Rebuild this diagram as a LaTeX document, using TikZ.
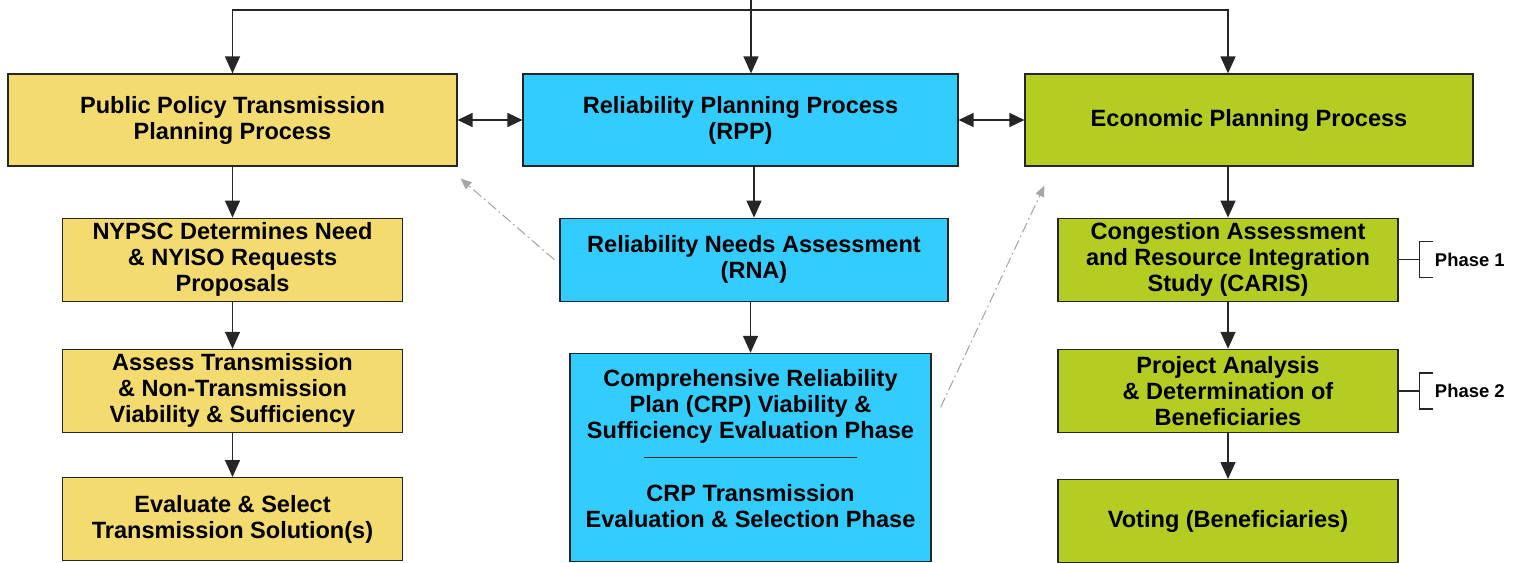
\documentclass[tikz,border=0pt]{standalone}
\usepackage{fontspec}
\setmainfont{Liberation Sans}
\usepackage{tikz}
\usetikzlibrary{arrows.meta, positioning, calc}
\definecolor{ppyellow}{RGB}{244,219,112}
\definecolor{rppblue}{RGB}{51,204,255}
\definecolor{eppgreen}{RGB}{181,204,34}

\begin{document}
\begin{tikzpicture}[
    x=0.02cm, y=-0.02cm,
    boxfont/.style={font=\bfseries\fontsize{13.4}{14.8}\selectfont, align=center},
    box/.style={boxfont, draw=black!85, line width=0.7pt, inner sep=2pt},
    topbox/.style={box, minimum height=1.84cm},
    stepbox/.style={box, minimum width=6.8cm, minimum height=1.66cm},
    ppbox/.style={box, fill=ppyellow},
    rppbox/.style={box, fill=rppblue},
    eppbox/.style={box, fill=eppgreen},
    line/.style={line width=0.8pt, black!85},
    arrow/.style={line, -{Triangle[length=0.34cm, width=0.3cm]}},
    dblarrow/.style={line, {Triangle[length=0.3cm, width=0.28cm]}-{Triangle[length=0.3cm, width=0.28cm]}},
    hint/.style={line width=0.6pt, gray!70, dash pattern=on 6pt off 2pt on 1pt off 2pt,
        -{Triangle[length=0.22cm, width=0.18cm]}},
    phaselbl/.style={font=\bfseries\fontsize{10.5}{12}\selectfont, inner sep=0pt, anchor=west},
  ]
    \useasboundingbox (0,0) rectangle (1517,563);

    % Planning processes
    \node[topbox, ppbox, minimum width=8.98cm] (pp) at (232.5,120) {Public Policy Transmission\\Planning Process};
    \node[topbox, rppbox, minimum width=8.7cm] (rpp) at (740.5,120) {Reliability Planning Process\\(RPP)};
    \node[topbox, eppbox, minimum width=8.96cm] (epp) at (1249,120) {Economic Planning Process};

    % Public policy column
    \node[ppbox, stepbox, below=1.02cm of pp] (nypsc) {NYPSC Determines Need\\\& NYISO Requests\\Proposals};
    \node[ppbox, stepbox, below=0.94cm of nypsc] (assess) {Assess Transmission\\\& Non-Transmission\\Viability \& Sufficiency};
    \node[ppbox, stepbox, below=0.88cm of assess] (select) {Evaluate \& Select\\Transmission Solution(s)};

    % Reliability column
    \node[rppbox, stepbox, minimum width=7.76cm, below=1.02cm of rpp, xshift=0.27cm] (rna) {Reliability Needs Assessment\\(RNA)};
    \node[rppbox, minimum width=7.22cm, minimum height=4.16cm, below=1.02cm of rna, xshift=-0.07cm] (crp) {};
    \node[boxfont] (crpa) at ([yshift=1.02cm]crp.center) {Comprehensive Reliability\\Plan (CRP) Viability \&\\Sufficiency Evaluation Phase};
    \node[boxfont] (crpb) at ([yshift=-0.98cm]crp.center) {CRP Transmission\\Evaluation \& Selection Phase};
    \draw[line] ([xshift=-2.14cm]crp.center) -- ([xshift=2.14cm]crp.center);

    % Economic column
    \node[eppbox, stepbox, below=1.02cm of epp, xshift=-0.42cm] (caris) {Congestion Assessment\\and Resource Integration\\Study (CARIS)};
    \node[eppbox, stepbox, below=0.94cm of caris] (proj) {Project Analysis\\\& Determination of\\Beneficiaries};
    \node[eppbox, stepbox, below=0.92cm of proj] (vote) {Voting (Beneficiaries)};

    % Feed from above
    \coordinate (src) at (751,0);
    \coordinate (bus) at (751,10);
    \draw[arrow] (src) -- (rpp.north -| src);
    \draw[arrow] (bus) -| (pp.north);
    \draw[arrow] (bus) -| (epp.north -| caris);

    % Arrows
    \draw[dblarrow] (pp) -- (rpp);
    \draw[dblarrow] (rpp) -- (epp);
    \draw[arrow] (pp.south -| nypsc) -- (nypsc.north);
    \draw[arrow] (nypsc) -- (assess);
    \draw[arrow] (assess) -- (select);
    \draw[arrow] (rpp.south -| rna) -- (rna.north);
    \draw[arrow] (rna.south -| crp) -- (crp.north);
    \draw[arrow] (epp.south -| caris) -- (caris.north);
    \draw[arrow] (caris) -- (proj);
    \draw[arrow] (proj) -- (vote);

    \draw[hint] ([xshift=-0.1cm]rna.west) -- ([shift={(0.06cm,-0.24cm)}]pp.south east);
    \draw[hint] ([shift={(0.18cm,1.0cm)}]crp.east) -- ([shift={(0.4cm,-0.38cm)}]epp.south west);

    % Phase brackets
    \coordinate[right=0.42cm of caris] (br1);
    \coordinate[right=0.42cm of proj] (br2);
    \foreach \b/\t in {br1/Phase 1, br2/Phase 2} {
      \draw[line] ([xshift=-0.42cm]\b) -- (\b);
      \draw[line] ([xshift=0.26cm, yshift=0.36cm]\b) -- ++(-0.26cm,0cm) -- ++(0cm,-0.72cm) -- ++(0.26cm,0cm);
      \node[phaselbl] at ([xshift=0.3cm]\b) {\t};
    }
  \end{tikzpicture}
\end{document}
